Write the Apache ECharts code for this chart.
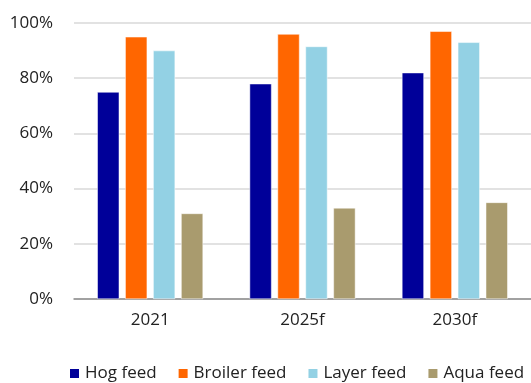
<!DOCTYPE html>
<html>
<head>
<meta charset="utf-8">
<script src="https://cdn.jsdelivr.net/npm/echarts@6/dist/echarts.min.js"></script>
<style>
  html, body { margin: 0; padding: 0; background: #fff; }
  #chart { width: 531px; height: 383px; }
</style>
</head>
<body>
<div id="chart"></div>
<script>
// Feed categories and their shares by year (%)
const years = ['2021', '2025f', '2030f'];
const hogFeed = [75, 78, 82];
const broilerFeed = [95, 96, 97];
const layerFeed = [90, 91.5, 93];
const aquaFeed = [31, 33, 35];
const seriesNames = ['Hog feed', 'Broiler feed', 'Layer feed', 'Aqua feed'];
const seriesColors = ['#000099', '#ff6600', '#93d1e4', '#a99b6e'];

const FONT = '"Open Sans", "Noto Sans", sans-serif';
const chart = echarts.init(document.getElementById('chart'), null, { renderer: 'canvas' });

const seriesData = [hogFeed, broilerFeed, layerFeed, aquaFeed];

chart.setOption({
  animation: false,
  textStyle: { fontFamily: FONT },
  grid: { left: 74, right: 0, top: 23, bottom: 84, containLabel: false },
  legend: {
    top: 360,
    left: 63,
    itemWidth: 11,
    itemHeight: 11,
    itemGap: 20,
    icon: 'rect',
    textStyle: { fontSize: 17, color: '#222', fontFamily: FONT },
    data: seriesNames
  },
  xAxis: {
    type: 'category',
    data: years,
    axisLine: { lineStyle: { color: '#8c8c8c', width: 1.5 } },
    axisTick: { show: false },
    axisLabel: { fontSize: 17, color: '#222', margin: 13, fontFamily: FONT }
  },
  yAxis: {
    type: 'value',
    min: 0,
    max: 100,
    interval: 20,
    axisLine: { show: false },
    axisTick: { show: false },
    splitLine: { lineStyle: { color: '#d9d9d9', width: 1.5 } },
    axisLabel: { fontSize: 17, color: '#222', margin: 21, formatter: '{value}%', fontFamily: FONT }
  },
  series: seriesNames.map((name, i) => ({
    name,
    type: 'bar',
    data: seriesData[i],
    barWidth: 22,
    barGap: '27%',
    itemStyle: { color: seriesColors[i], borderColor: '#fff', borderWidth: 0.5 }
  }))
});
</script>
</body>
</html>
